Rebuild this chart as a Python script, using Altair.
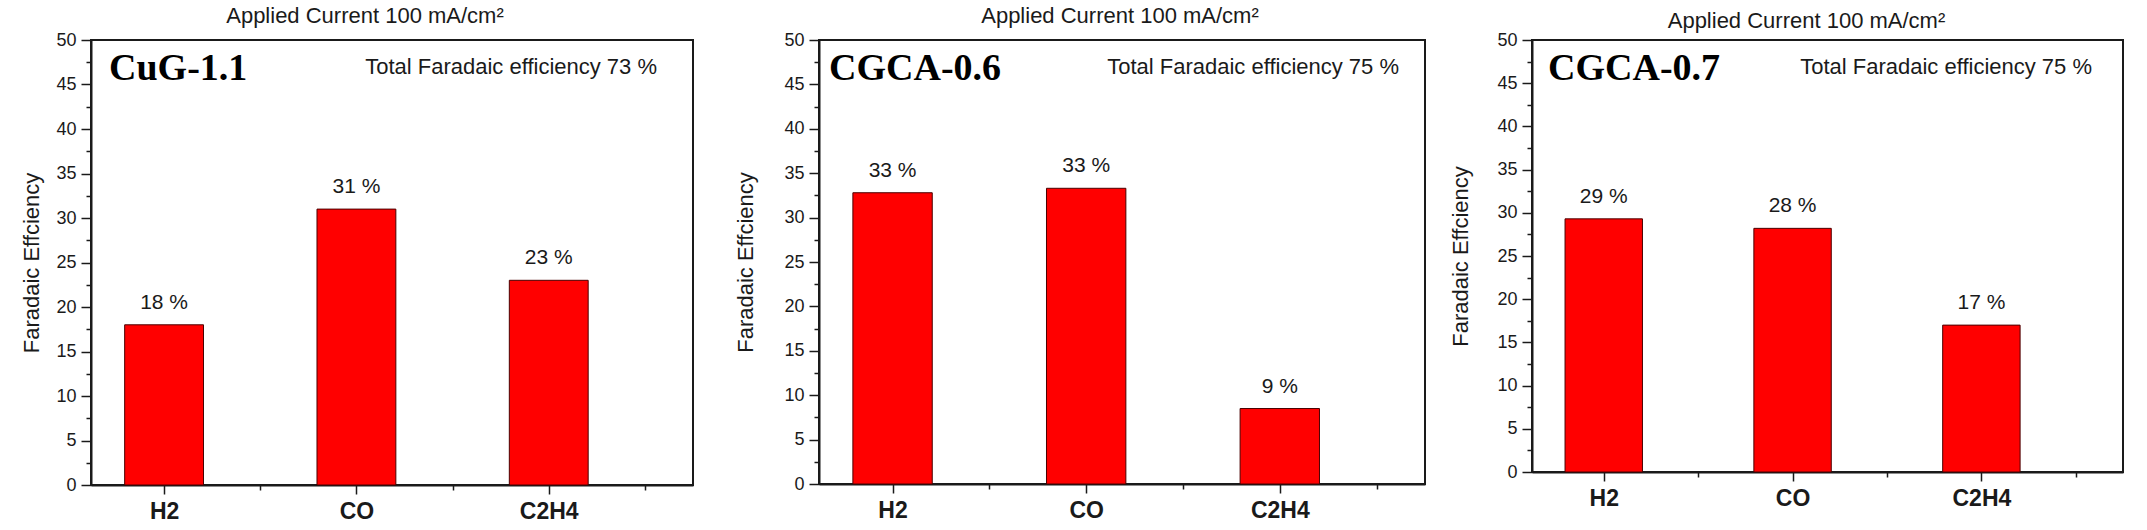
import altair as alt
import pandas as pd

# ---------------- data ----------------
categories = ["H2", "CO", "C2H4"]
category_pos = [1, 2, 3]
samples = ["CuG-1.1", "CGCA-0.6", "CGCA-0.7"]
fe_cug11 = [18.0, 31.0, 23.0]
fe_cgca06 = [32.8, 33.3, 8.5]
fe_cgca07 = [29.3, 28.2, 17.0]
labels_cug11 = ["18 %", "31 %", "23 %"]
labels_cgca06 = ["33 %", "33 %", "9 %"]
labels_cgca07 = ["29 %", "28 %", "17 %"]
total_fe = ["Total Faradaic efficiency 73 %",
            "Total Faradaic efficiency 75 %",
            "Total Faradaic efficiency 75 %"]
panel_title = "Applied Current 100 mA/cm\u00b2"
y_title = "Faradaic Effciency"
y_tick_values = [0, 2.5, 5, 7.5, 10, 12.5, 15, 17.5, 20, 22.5, 25, 27.5, 30,
                 32.5, 35, 37.5, 40, 42.5, 45, 47.5, 50]
x_tick_values = [1, 1.5, 2, 2.5, 3, 3.5]

FONT = "Liberation Sans"
INK = "#1a1a1a"

x_label_expr = " : ".join(
    f"datum.value === {p} ? '{c}'" for p, c in zip(category_pos, categories)
) + " : ''"


def panel(sample, values, labels, total, w, h, title_x, min_ext,
          title_dx, title_dy, name_x, total_right):
    df = pd.DataFrame({"product": categories, "pos": category_pos,
                       "fe": values, "label": labels})
    xscale = alt.Scale(domain=[0.62, 3.75], nice=False, zero=False)
    yscale = alt.Scale(domain=[0, 50], nice=False)

    x_axis = alt.Axis(
        values=x_tick_values, labelExpr=x_label_expr, title=None, grid=False,
        tickSize={"condition": {"test": "datum.value % 1 === 0", "value": 9}, "value": 5},
        tickColor=INK, tickWidth=1.5, domainColor=INK, domainWidth=2,
        labelFont=FONT, labelFontSize=23, labelFontWeight="bold", labelColor=INK,
        labelPadding=6, labelFlush=False, labelOverlap=False,
    )
    y_axis = alt.Axis(
        values=y_tick_values,
        labelExpr="datum.value % 5 === 0 ? datum.label : ''",
        tickSize={"condition": {"test": "datum.value % 5 === 0", "value": 10}, "value": 5},
        tickColor=INK, tickWidth=1.5, domainColor=INK, domainWidth=2,
        labelFont=FONT, labelFontSize=18, labelColor=INK, labelPadding=5,
        labelOverlap=False, grid=False,
        title=y_title, titleFont=FONT, titleFontSize=22, titleFontWeight="normal",
        titleColor=INK, titleAngle=270, titleAlign="center", titleBaseline="middle",
        titleX=title_x, titleY=h / 2, minExtent=min_ext,
    )

    bars = alt.Chart(df).transform_calculate(
        x1="datum.pos - 0.205", x2="datum.pos + 0.205", y0="0"
    ).mark_bar(color="#ff0000", stroke="#4a0000", strokeWidth=1).encode(
        x=alt.X("x1:Q", scale=xscale, axis=x_axis),
        x2="x2:Q",
        y=alt.Y("fe:Q", scale=yscale, axis=y_axis),
        y2="y0:Q",
    )
    bar_text = alt.Chart(df).transform_calculate(
        x1="datum.pos"
    ).mark_text(
        font=FONT, fontSize=21, color=INK, baseline="alphabetic", dy=-16
    ).encode(
        x=alt.X("x1:Q", scale=xscale, axis=x_axis),
        y=alt.Y("fe:Q", scale=yscale, axis=y_axis),
        text="label:N",
    )
    name = alt.Chart(pd.DataFrame({"t": [sample]})).mark_text(
        font="Liberation Serif", fontWeight="bold", fontSize=38, color="black",
        align="left", baseline="alphabetic"
    ).encode(x=alt.value(name_x), y=alt.value(40), text="t:N")
    tot = alt.Chart(pd.DataFrame({"t": [total]})).mark_text(
        font=FONT, fontSize=22, color=INK, align="right", baseline="middle"
    ).encode(x=alt.value(w - total_right), y=alt.value(27), text="t:N")

    title_kw = dict(
        text=panel_title, font=FONT, fontSize=22, fontWeight="normal",
        color=INK, anchor="middle", frame="group", baseline="alphabetic",
        offset=-14, dx=title_dx,
    )
    if title_dy:
        title_kw["dy"] = title_dy
    return alt.layer(bars, bar_text, name, tot).properties(
        width=w, height=h, title=alt.TitleParams(**title_kw),
    )


p1 = panel(samples[0], fe_cug11, labels_cug11, total_fe[0], 602, 445,
           -60, 30, -27, 0, 18, 36)
p2 = panel(samples[1], fe_cgca06, labels_cgca06, total_fe[1], 606, 444,
           -74, 114, -2, 0, 10, 26)
p3 = panel(samples[2], fe_cgca07, labels_cgca07, total_fe[2], 591, 432,
           -72, 95, -21, 5, 16, 31)

chart = alt.hconcat(p1, p2, p3, spacing=10).properties(
    padding={"left": 19, "top": 4, "right": 5, "bottom": 5},
    background="white",
).configure_view(stroke=INK, strokeWidth=2)

chart.save("out.html", embed_options={"renderer": "svg", "actions": False})
